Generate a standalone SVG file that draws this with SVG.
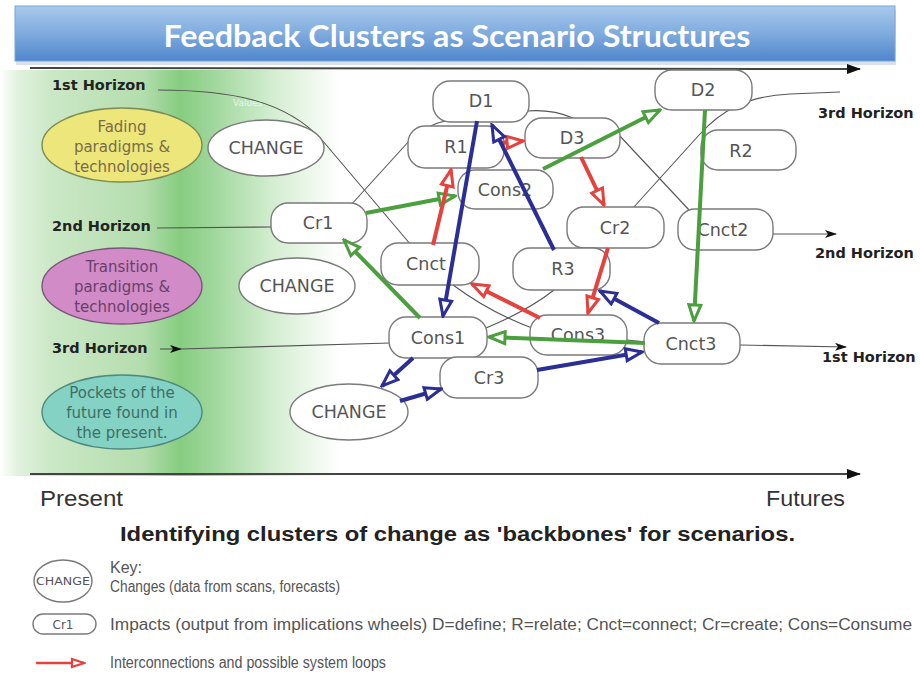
<svg xmlns="http://www.w3.org/2000/svg" width="920" height="676" viewBox="0 0 920 676">
<defs>
<style>
.node rect{fill:#fff;stroke:#7a7a7a;stroke-width:1.4}
.node ellipse{fill:#fff;stroke:#7a7a7a;stroke-width:1.4}
.nt{font-family:"DejaVu Sans",Verdana,sans-serif;font-size:17.5px;fill:#555;text-anchor:middle}
.et{font-family:"DejaVu Sans",Verdana,sans-serif;font-size:15px;text-anchor:middle}
.hz{font-family:"DejaVu Sans",Verdana,sans-serif;font-size:14.5px;font-weight:bold;fill:#222}
.key{font-family:"Liberation Sans",Arial,sans-serif;font-size:16px;fill:#555}
.gl{fill:none;stroke:#555;stroke-width:1.1}
.g{fill:none;stroke:#4C9F3E;stroke-width:4}
.r{fill:none;stroke:#E5413D;stroke-width:4}
.b{fill:none;stroke:#2B2F95;stroke-width:4}
</style>
<linearGradient id="title" x1="0" y1="0" x2="0" y2="1">
<stop offset="0" stop-color="#a9c9eb"/>
<stop offset="0.5" stop-color="#7fabde"/>
<stop offset="1" stop-color="#4f86cc"/>
</linearGradient>
<linearGradient id="green" x1="0" y1="0" x2="1" y2="0">
<stop offset="0" stop-color="#ffffff"/>
<stop offset="0.05" stop-color="#e2f2df"/>
<stop offset="0.15" stop-color="#cbe8c6"/>
<stop offset="0.42" stop-color="#b4ddae"/>
<stop offset="0.53" stop-color="#86cd80"/>
<stop offset="0.62" stop-color="#9ed69a"/>
<stop offset="0.8" stop-color="#d3edd0"/>
<stop offset="1" stop-color="#ffffff"/>
</linearGradient>
<marker id="mg" viewBox="0 0 20 16" refX="18" refY="8" markerWidth="20" markerHeight="16" orient="auto" markerUnits="userSpaceOnUse"><path d="M2,2 L18,8 L2,14 Z" fill="#fff" stroke="#4C9F3E" stroke-width="3"/></marker>
<marker id="mr" viewBox="0 0 20 16" refX="18" refY="8" markerWidth="20" markerHeight="16" orient="auto" markerUnits="userSpaceOnUse"><path d="M2,2 L18,8 L2,14 Z" fill="#fff" stroke="#E5413D" stroke-width="3"/></marker>
<marker id="mb" viewBox="0 0 20 16" refX="18" refY="8" markerWidth="20" markerHeight="16" orient="auto" markerUnits="userSpaceOnUse"><path d="M2,2 L18,8 L2,14 Z" fill="#fff" stroke="#2B2F95" stroke-width="3"/></marker>
<marker id="mrs" viewBox="0 0 16 12" refX="14" refY="6" markerWidth="16" markerHeight="12" orient="auto" markerUnits="userSpaceOnUse"><path d="M2,2 L14,6 L2,10 Z" fill="#fff" stroke="#E5413D" stroke-width="2.2"/></marker>
<marker id="ma" viewBox="0 0 14 10" refX="13" refY="5" markerWidth="14" markerHeight="10" orient="auto" markerUnits="userSpaceOnUse"><path d="M0,0 L14,5 L0,10 Z" fill="#111"/></marker>
<marker id="ms" viewBox="0 0 12 8" refX="11" refY="4" markerWidth="12" markerHeight="8" orient="auto" markerUnits="userSpaceOnUse"><path d="M0,0 L12,4 L0,8 L3,4 Z" fill="#111"/></marker>
</defs>

<rect width="920" height="676" fill="#fff"/>
<rect x="0" y="70" width="340" height="406" fill="url(#green)"/>

<g id="title-bar">
<rect x="15" y="8" width="880" height="55" fill="#8fa9c4" opacity="0.35" transform="translate(1,2)"/>
<rect x="15" y="6" width="880" height="55" fill="url(#title)" stroke="#7ba4d6" stroke-width="1"/>
<text x="457" y="47" font-family="Lato,'Liberation Sans',sans-serif" font-size="30" font-weight="bold" fill="#fff" text-anchor="middle" textLength="587" lengthAdjust="spacingAndGlyphs">Feedback Clusters as Scenario Structures</text>
</g>

<g id="axes">
<line x1="30" y1="68" x2="860" y2="69" stroke="#444" stroke-width="2" marker-end="url(#ma)"/>
<line x1="30" y1="474" x2="860" y2="474" stroke="#444" stroke-width="2" marker-end="url(#ma)"/>
<text x="40" y="506" font-family="'Liberation Sans',Arial,sans-serif" font-size="22" fill="#333" textLength="83" lengthAdjust="spacingAndGlyphs">Present</text>
<text x="766" y="506" font-family="'Liberation Sans',Arial,sans-serif" font-size="22" fill="#333" textLength="79" lengthAdjust="spacingAndGlyphs">Futures</text>
</g>

<g id="horizon-labels">
<text class="hz" x="52" y="90">1st Horizon</text>
<text class="hz" x="52" y="231">2nd Horizon</text>
<text class="hz" x="52" y="353">3rd Horizon</text>
<text class="hz" x="818" y="118">3rd Horizon</text>
<text class="hz" x="815" y="258">2nd Horizon</text>
<text class="hz" x="822" y="362">1st Horizon</text>
<text x="233" y="106" font-family="'DejaVu Sans',sans-serif" font-size="9" fill="#fff" opacity="0.7">Values</text>
</g>

<g id="horizon-lines">
<path class="gl" d="M158,90 C230,90 285,100 322,140 L411,245"/>
<path class="gl" d="M453,285 C480,305 505,318 532,328"/>
<path class="gl" d="M627,340 L645,342"/>
<path class="gl" d="M740,345 L846,347" marker-end="url(#ms)"/>
<path class="gl" d="M157,228 L272,227"/>
<path class="gl" d="M350,206 L410,140"/>
<path class="gl" d="M428,128 Q436,122 448,121"/>
<path class="gl" d="M527,111 Q552,109 573,118"/>
<path class="gl" d="M618,134 L690,211"/>
<path class="gl" d="M773,234 L836,234" marker-end="url(#ms)"/>
<path class="gl" d="M160,349 L181,349" marker-end="url(#ms)"/>
<path class="gl" d="M181,349 L390,343"/>
<path class="gl" d="M486,328 C510,318 535,305 554,290"/>
<path class="gl" d="M633,208 L700,134 C720,112 745,96 790,94 L840,92"/>
</g>

<g id="fading" class="node"><ellipse cx="122" cy="145" rx="80" ry="37" style="fill:#ede67b;stroke:#7d8c55"/>
<text class="et" x="122" y="132" fill="#7a6c48">Fading</text>
<text class="et" x="122" y="152" fill="#7a6c48">paradigms &amp;</text>
<text class="et" x="122" y="172" fill="#7a6c48">technologies</text></g>
<g id="transition" class="node"><ellipse cx="122" cy="286" rx="80" ry="38" style="fill:#d18bc7;stroke:#7a577a"/>
<text class="et" x="122" y="272" fill="#6a3f6a">Transition</text>
<text class="et" x="122" y="292" fill="#6a3f6a">paradigms &amp;</text>
<text class="et" x="122" y="312" fill="#6a3f6a">technologies</text></g>
<g id="pockets" class="node"><ellipse cx="122" cy="412" rx="80" ry="37" style="fill:#83d2c4;stroke:#4f8a80"/>
<text class="et" x="122" y="398" fill="#3f6e66">Pockets of the</text>
<text class="et" x="122" y="418" fill="#3f6e66">future found in</text>
<text class="et" x="122" y="438" fill="#3f6e66">the present.</text></g>

<g id="change1" class="node"><ellipse cx="266" cy="148" rx="58" ry="28"/><text class="nt" x="266" y="154">CHANGE</text></g>
<g id="change2" class="node"><ellipse cx="297" cy="286" rx="58" ry="28"/><text class="nt" x="297" y="292">CHANGE</text></g>
<g id="change3" class="node"><ellipse cx="349" cy="412" rx="59" ry="28"/><text class="nt" x="349" y="418">CHANGE</text></g>

<g id="D1" class="node"><rect x="433" y="81" width="96" height="41" rx="17"/><text class="nt" x="481" y="107">D1</text></g>
<g id="R1" class="node"><rect x="408" y="126" width="96" height="42" rx="17"/><text class="nt" x="456" y="153">R1</text></g>
<g id="D3" class="node"><rect x="525" y="118" width="95" height="40" rx="17"/><text class="nt" x="572" y="144">D3</text></g>
<g id="Cons2" class="node"><rect x="458" y="170" width="95" height="39" rx="17"/><text class="nt" x="505" y="196">Cons2</text></g>
<g id="D2" class="node"><rect x="655" y="70" width="97" height="40" rx="17"/><text class="nt" x="703" y="96">D2</text></g>
<g id="R2" class="node"><rect x="701" y="130" width="95" height="40" rx="17"/><text class="nt" x="741" y="157">R2</text></g>
<g id="Cr1" class="node"><rect x="271" y="203" width="96" height="40" rx="17"/><text class="nt" x="318" y="229">Cr1</text></g>
<g id="Cr2" class="node"><rect x="567" y="207" width="97" height="41" rx="17"/><text class="nt" x="615" y="234">Cr2</text></g>
<g id="Cnct2" class="node"><rect x="678" y="209" width="95" height="41" rx="17"/><text class="nt" x="723" y="236">Cnct2</text></g>
<g id="Cnct" class="node"><rect x="381" y="243" width="98" height="42" rx="17"/><text class="nt" x="426" y="270">Cnct</text></g>
<g id="R3" class="node"><rect x="513" y="248" width="97" height="42" rx="17"/><text class="nt" x="563" y="275">R3</text></g>
<g id="Cons3" class="node"><rect x="530" y="315" width="97" height="40" rx="17"/><text class="nt" x="578" y="341">Cons3</text></g>
<g id="Cons1" class="node"><rect x="389" y="317" width="98" height="41" rx="17"/><text class="nt" x="438" y="344">Cons1</text></g>
<g id="Cr3" class="node"><rect x="440" y="357" width="98" height="41" rx="17"/><text class="nt" x="489" y="384">Cr3</text></g>
<g id="Cnct3" class="node"><rect x="644" y="323" width="96" height="41" rx="17"/><text class="nt" x="691" y="350">Cnct3</text></g>

<g id="connectors">
<path class="g" d="M366,213 L455,196" marker-end="url(#mg)"/>
<path class="g" d="M420,318 L344,240" marker-end="url(#mg)"/>
<path class="g" d="M543,169 L660,110" marker-end="url(#mg)"/>
<path class="g" d="M705,110 L694,321" marker-end="url(#mg)"/>
<path class="g" d="M645,343 L489,337" marker-end="url(#mg)"/>
<path class="r" d="M433,245 L451,170" marker-end="url(#mr)"/>
<path class="r" d="M500,143 L523,141" marker-end="url(#mr)"/>
<path class="r" d="M581,157 L604,205" marker-end="url(#mr)"/>
<path class="r" d="M608,248 L588,313" marker-end="url(#mr)"/>
<path class="r" d="M540,318 L472,284" marker-end="url(#mr)"/>
<path class="b" d="M477,121 L443,316" marker-end="url(#mb)"/>
<path class="b" d="M554,250 L492,125" marker-end="url(#mb)"/>
<path class="b" d="M659,323 L600,291" marker-end="url(#mb)"/>
<path class="b" d="M413,358 L382,386" marker-end="url(#mb)"/>
<path class="b" d="M400,401 L441,389" marker-end="url(#mb)"/>
<path class="b" d="M537,370 L642,352" marker-end="url(#mb)"/>
</g>

<text x="120" y="541" font-family="'Liberation Sans',Arial,sans-serif" font-size="20" font-weight="bold" fill="#222" textLength="675" lengthAdjust="spacingAndGlyphs">Identifying clusters of change as 'backbones' for scenarios.</text>

<g id="key">
<text class="key" x="110" y="573" font-size="17">Key:</text>
<g id="key-change" class="node"><ellipse cx="63" cy="581" rx="29" ry="21"/><text x="63" y="585" font-family="'DejaVu Sans',sans-serif" font-size="11" fill="#555" text-anchor="middle" textLength="54" lengthAdjust="spacingAndGlyphs">CHANGE</text></g>
<text class="key" x="110" y="592" textLength="230" lengthAdjust="spacingAndGlyphs">Changes (data from scans, forecasts)</text>
<g id="key-impact" class="node"><rect x="33" y="614" width="63" height="20" rx="10"/><text x="63" y="629" font-family="'DejaVu Sans',sans-serif" font-size="12" fill="#555" text-anchor="middle">Cr1</text></g>
<text class="key" x="110" y="630" textLength="802" lengthAdjust="spacingAndGlyphs">Impacts (output from implications wheels) D=define; R=relate; Cnct=connect; Cr=create; Cons=Consume</text>
<path d="M36,663 L84,663" fill="none" stroke="#E5413D" stroke-width="2.5" marker-end="url(#mrs)"/>
<text class="key" x="110" y="668" textLength="276" lengthAdjust="spacingAndGlyphs">Interconnections and possible system loops</text>
</g>
</svg>
